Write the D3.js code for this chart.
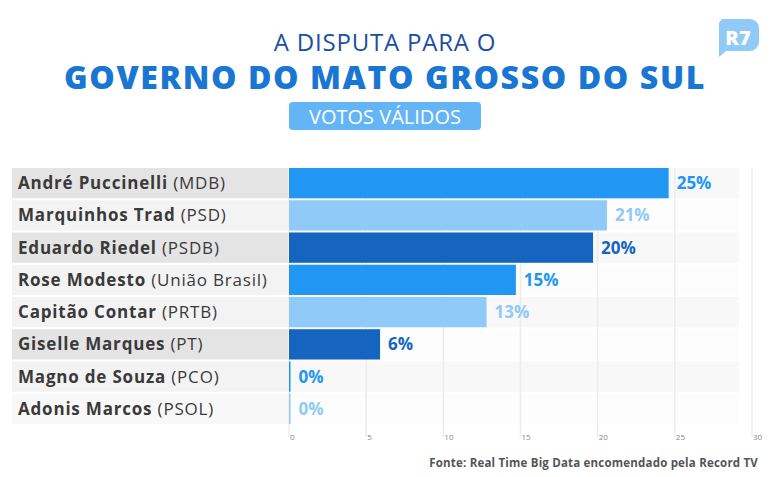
<html>
<head>
<meta charset="utf-8">
<script src="https://cdn.jsdelivr.net/npm/d3@7"></script>
<style>body{margin:0;background:#fff;font-family:"Open Sans",sans-serif}</style>
</head>
<body>
<script>
var names = ["André Puccinelli", "Marquinhos Trad", "Eduardo Riedel", "Rose Modesto", "Capitão Contar", "Giselle Marques", "Magno de Souza", "Adonis Marcos"];
var parties = ["(MDB)", "(PSD)", "(PSDB)", "(União Brasil)", "(PRTB)", "(PT)", "(PCO)", "(PSOL)"];
var values = [24.6, 20.6, 19.7, 14.7, 12.8, 5.9, 0.1, 0.1];
var valueLabels = ["25%", "21%", "20%", "15%", "13%", "6%", "0%", "0%"];
var ticks = [0, 5, 10, 15, 20, 25, 30];
var colors = ["#2196f3", "#90caf9", "#1565c0"];
var labelShade = ["#e4e4e4", "#f3f3f3", "#e4e4e4", "#f3f3f3", "#f3f3f3", "#e4e4e4", "#f3f3f3", "#f8f8f8"];

var svg = d3.select("body").append("svg").attr("width", 770).attr("height", 477);

var x = d3.scaleLinear().domain([0, 30]).range([289, 752]);
var y = d3.scaleBand().domain(d3.range(names.length)).range([168, 424]).paddingInner(0.06);

// header
svg.append("text").attr("x", 385).attr("y", 51).attr("text-anchor", "middle")
  .attr("font-size", 24).attr("letter-spacing", 0.8).attr("fill", "#1a4fa3").text("A DISPUTA PARA O");
svg.append("text").attr("x", 385).attr("y", 89).attr("text-anchor", "middle")
  .attr("font-size", 32).attr("letter-spacing", 1.6).attr("font-weight", 800).attr("fill", "#1976d2").text("GOVERNO DO MATO GROSSO DO SUL");
svg.append("rect").attr("x", 289).attr("y", 102).attr("width", 192).attr("height", 28).attr("rx", 4).attr("fill", "#64b5f6");
svg.append("text").attr("x", 385).attr("y", 124).attr("text-anchor", "middle")
  .attr("font-size", 20).attr("fill", "#fff").text("VOTOS VÁLIDOS");
// logo
svg.append("path").attr("d", "M722,19 h28 a9,9 0 0 1 9,9 v14 a9,9 0 0 1 -9,9 h-24 l-7,6 v-29 a9,9 0 0 1 3,-9z").attr("fill", "#90caf9");
svg.append("text").attr("x", 738).attr("y", 45).attr("text-anchor", "middle").attr("font-size", 20)
  .attr("font-weight", 800).attr("fill", "#fff").text("R7");

// row bands in plot
svg.selectAll(".band").data(values).enter().append("rect")
  .attr("x", 289).attr("y", (d, i) => y(i)).attr("width", 450).attr("height", y.bandwidth())
  .attr("fill", (d, i) => i % 2 ? "#fdfdfd" : "#f8f8f8");

// grid
svg.selectAll(".grid").data(ticks).enter().append("line")
  .attr("x1", d => x(d)).attr("x2", d => x(d)).attr("y1", 168).attr("y2", 437)
  .attr("stroke", "#ececec").attr("stroke-width", 1.5);

// axis labels
svg.selectAll(".tick").data(ticks).enter().append("text")
  .attr("x", d => x(d) + 1).attr("y", 440).attr("font-size", 8).attr("fill", "#888").text(d => d);

// label column
svg.selectAll(".lab").data(values).enter().append("rect")
  .attr("x", 12).attr("y", (d, i) => y(i)).attr("width", 276).attr("height", y.bandwidth())
  .attr("fill", (d, i) => labelShade[i]);
var t = svg.selectAll(".name").data(names).enter().append("text")
  .attr("x", 18).attr("y", (d, i) => y(i) + y.bandwidth() / 2 + 6)
  .attr("font-size", 17).attr("letter-spacing", 0.8).attr("fill", "#3a3a3a");
t.append("tspan").attr("font-weight", 700).text(d => d + " ");
t.append("tspan").text((d, i) => parties[i]);

// bars
svg.selectAll(".bar").data(values).enter().append("rect")
  .attr("x", x(0)).attr("y", (d, i) => y(i)).attr("height", y.bandwidth())
  .attr("width", d => Math.max(x(d) - x(0), 1.5)).attr("fill", (d, i) => colors[i % 3]);
svg.selectAll(".val").data(values).enter().append("text")
  .attr("x", d => x(d) + 8).attr("y", (d, i) => y(i) + y.bandwidth() / 2 + 6)
  .attr("font-size", 17).attr("font-weight", 700).attr("fill", (d, i) => colors[i % 3]).text((d, i) => valueLabels[i]);

svg.append("text").attr("x", 758).attr("y", 467).attr("text-anchor", "end")
  .attr("font-size", 11.5).attr("letter-spacing", 0.2).attr("font-weight", 700).attr("fill", "#555")
  .text("Fonte: Real Time Big Data encomendado pela Record TV");
</script>
</body>
</html>
